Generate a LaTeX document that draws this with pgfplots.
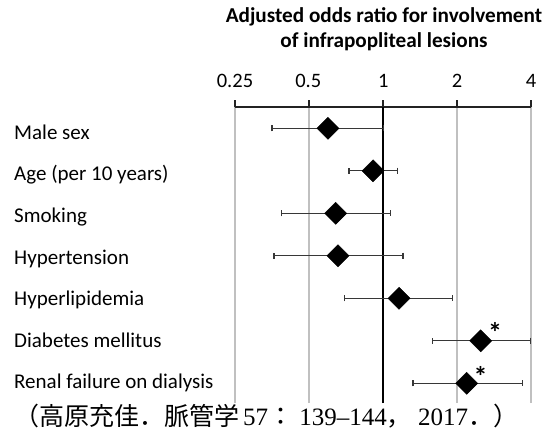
\documentclass[border=0pt]{standalone}
\usepackage{fontspec}
\setmainfont{Carlito}
\newfontfamily\cjk{Noto Sans CJK JP}
\newfontfamily\lser{Liberation Serif}
\usepackage{pgfplots}
\pgfplotsset{compat=1.18}
\usepackage{pgfplotstable}

\definecolor{gridgray}{RGB}{192,192,192}
\definecolor{axisdark}{RGB}{35,35,35}
\definecolor{bargray}{RGB}{55,55,55}

% adjusted odds ratio with 95% CI; pos 7 = top row
\pgfplotstableread{
pos or    lo    hi
7   0.597 0.354 1.007
6   0.911 0.727 1.144
5   0.642 0.386 1.075
4   0.656 0.360 1.206
3   1.162 0.698 1.915
2   2.497 1.589 3.970
1   2.190 1.324 3.690
}\ordata

\begin{document}
\begin{tikzpicture}[x=1pt,y=1pt]
\useasboundingbox (0,0) rectangle (551,-437);

% title
\node[anchor=base, font=\fontsize{21.2}{25}\selectfont\bfseries] at (384,-22.7) {Adjusted odds ratio for involvement};
\node[anchor=base, font=\fontsize{21.2}{25}\selectfont\bfseries] at (384,-47.7) {of infrapopliteal lesions};

% row labels
\foreach \lab [count=\i from 0] in {Male sex, Age (per 10 years), Smoking, Hypertension, Hyperlipidemia, Diabetes mellitus, Renal failure on dialysis}
  \node[anchor=base west, inner sep=0pt, font=\fontsize{21}{25}\selectfont] at (14,{-139.3-41.6*\i}) {\lab};

\begin{axis}[
  at={(235pt,-403pt)}, anchor=south west,
  scale only axis, width=296pt, height=296.3pt,
  xmode=log, log basis x=2, xmin=0.25, xmax=4,
  ymin=0.536, ymax=7.508,
  axis x line*=top, axis y line=none,
  xtick={0.25,0.5,1,2,4}, xticklabels={},
  tick align=outside, major tick length=6.4pt,
  every tick/.style={axisdark, line width=2pt},
  x axis line style={axisdark, line width=2pt},
  xmajorgrids, grid style={gridgray, line width=1.4pt},
  extra x ticks={1}, extra x tick labels={},
  extra x tick style={major grid style={black, line width=2pt}},
  clip=false,
]
\addplot[only marks, mark=square*, mark size=7.8pt,
  mark options={rotate=45, black, fill=black},
  error bars/.cd, x dir=both, x explicit,
  error bar style={bargray, line width=1.3pt},
  error mark options={bargray, line width=1.3pt, mark size=3.2pt, rotate=90}]
  table[x=or, y=pos,
        x error plus expr=\thisrow{hi}-\thisrow{or},
        x error minus expr=\thisrow{or}-\thisrow{lo}] {\ordata};
% significance markers
\node[font=\fontsize{28}{28}\selectfont\bfseries] at (axis cs:2.497,2) [xshift=14.5pt, yshift=8pt] {*};
\node[font=\fontsize{28}{28}\selectfont\bfseries] at (axis cs:2.190,1) [xshift=14pt, yshift=6.5pt] {*};
\end{axis}

% tick labels
\foreach \v/\px in {0.25/235, 0.5/308.3, 1/383.3, 2/457, 4/531}
  \node[anchor=base, inner sep=0pt, font=\fontsize{20.5}{24}\selectfont] at (\px,-87) {\v};

% source
\node[anchor=base west, inner sep=0pt, font=\fontsize{25}{28}\selectfont] at (14,-425)
  {{\cjk （高原充佳．脈管学}\hspace{4pt}{\lser\fontsize{25}{28}\selectfont 57}{\cjk ：}{\lser\fontsize{25}{28}\selectfont\ 139–144}{\cjk ，}{\lser\fontsize{25}{28}\selectfont\ 2017}{\cjk ．）}};
\end{tikzpicture}
\end{document}
